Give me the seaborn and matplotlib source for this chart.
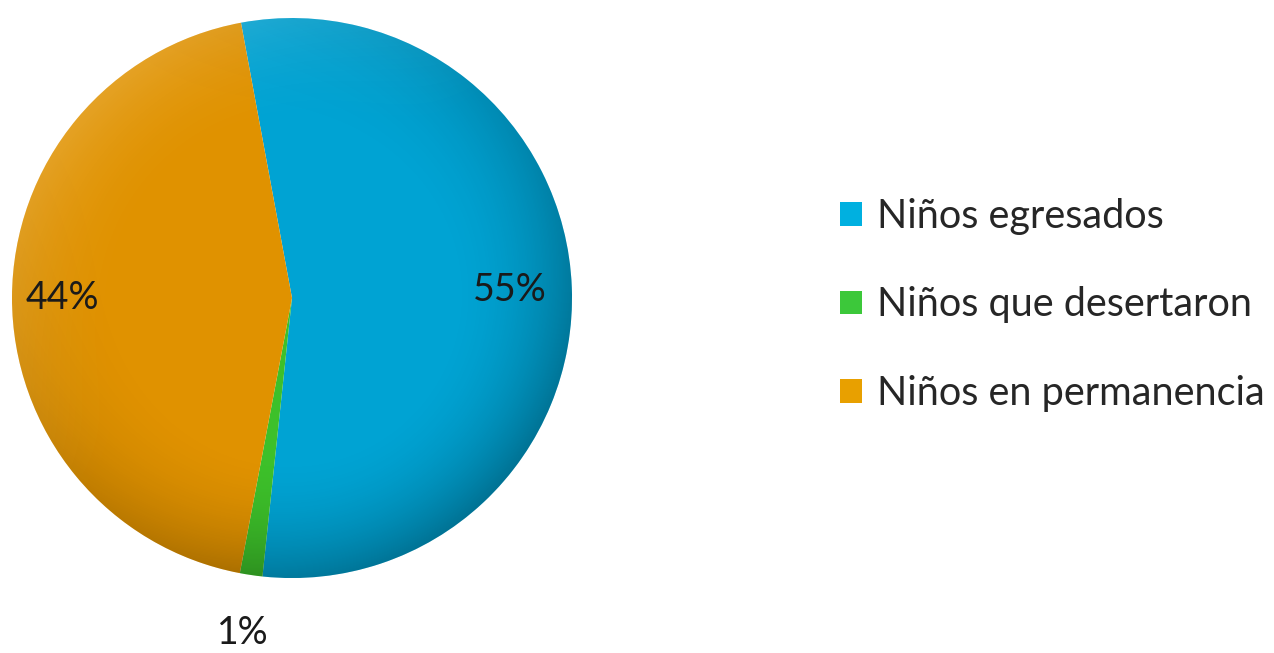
import matplotlib
matplotlib.use("Agg")
import matplotlib.pyplot as plt
import seaborn as sns
import numpy as np
from matplotlib.patches import Patch, Circle

categories = ["Niños egresados", "Niños que desertaron", "Niños en permanencia"]
values = [54.6, 1.3, 44.1]
pct_labels = ["55%", "1%", "44%"]
colors = ["#00A3D3", "#3DC02A", "#E09200"]

sns.set_theme(style="white")
plt.rcParams['font.family'] = ['Lato', 'DejaVu Sans']

fig = plt.figure(figsize=(12.74, 6.53), dpi=100)
ax = fig.add_axes([0.0094, 0.1148, 0.4396, 0.8576])

wedges, _ = ax.pie(values, colors=colors, startangle=100.5, counterclock=False,
                   radius=1.0, wedgeprops=dict(linewidth=0))

# soft shading overlay (darker at lower-right rim, brighter at upper-left rim)
n = 400
xx, yy = np.meshgrid(np.linspace(-1, 1, n), np.linspace(-1, 1, n))
rr = np.sqrt(xx**2 + yy**2)
rim = np.clip((rr - 0.55) / 0.45, 0, 1) ** 2
dirdot = (xx - yy) / np.maximum(rr, 1e-6) / np.sqrt(2)  # +1 towards lower-right
dark = rim * np.clip(0.5 + 0.5 * dirdot, 0, 1) * 0.30
light = rim * np.clip(-dirdot, 0, 1) * 0.15
rgba_dark = np.zeros((n, n, 4)); rgba_dark[..., 3] = dark
rgba_light = np.ones((n, n, 4)); rgba_light[..., 3] = light
clip = Circle((0, 0), 1.0, transform=ax.transData)
for img in (rgba_dark, rgba_light):
    im = ax.imshow(img, extent=(-1, 1, -1, 1), origin="lower", zorder=2,
                   interpolation="bilinear")
    im.set_clip_path(clip)

dists = [0.78, 1.21, 0.82]
for w, lab, d in zip(wedges, pct_labels, dists):
    ang = np.deg2rad((w.theta1 + w.theta2) / 2)
    ax.text(d * np.cos(ang), d * np.sin(ang), lab, ha="center", va="center",
            fontsize=27, color="#1a1a1a", zorder=5)
ax.set_xlim(-1, 1)
ax.set_ylim(-1, 1)
ax.set_aspect("equal")
ax.axis("off")

handles = [Patch(facecolor=c, edgecolor="none") for c in ["#00B0E0", "#3CC83A", "#E8A000"]]
fig.legend(handles, categories, loc="center left", bbox_to_anchor=(0.644, 0.533),
           frameon=False, fontsize=28.5, handlelength=0.55, handleheight=0.55,
           handletextpad=0.38, labelspacing=1.31, borderpad=0)

fig.savefig("out.png", dpi=100, facecolor="white")
